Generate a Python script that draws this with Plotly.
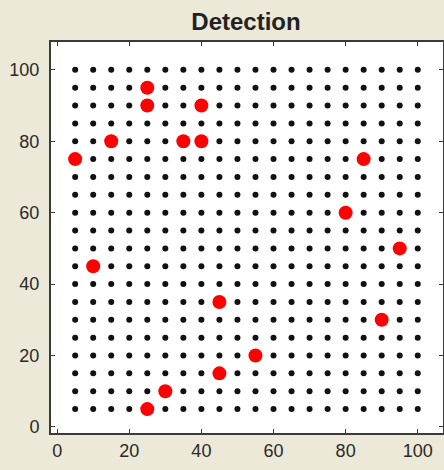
import numpy as np
import plotly.graph_objects as go

# Grid of sensor positions
grid_x_values = [5, 10, 15, 20, 25, 30, 35, 40, 45, 50, 55, 60, 65, 70, 75, 80, 85, 90, 95, 100]
grid_y_values = [5, 10, 15, 20, 25, 30, 35, 40, 45, 50, 55, 60, 65, 70, 75, 80, 85, 90, 95, 100]

# Detected targets
det_x = [5, 15, 25, 25, 35, 40, 40, 85, 80, 95, 10, 45, 90, 55, 45, 30, 25]
det_y = [75, 80, 95, 90, 80, 90, 80, 75, 60, 50, 45, 35, 30, 20, 15, 10, 5]

tick_vals = [0, 20, 40, 60, 80, 100]
tick_text = ["0", "20", "40", "60", "80", "100"]

gx, gy = np.meshgrid(grid_x_values, grid_y_values)

fig = go.Figure()
fig.add_trace(go.Scatter(
    x=gx.ravel(), y=gy.ravel(), mode="markers",
    marker=dict(color="#111111", size=6, line=dict(width=0)),
    hoverinfo="skip", showlegend=False))
fig.add_trace(go.Scatter(
    x=det_x, y=det_y, mode="markers",
    marker=dict(color="#ff0000", size=14, line=dict(width=0)),
    showlegend=False))

axis_common = dict(
    showgrid=False, zeroline=False, automargin=False,
    showline=True, linecolor="#3a3a3a", linewidth=2, mirror="ticks",
    ticks="inside", ticklen=4, tickwidth=1, tickcolor="#3a3a3a",
    tickvals=tick_vals, ticktext=tick_text,
    tickfont=dict(family="Liberation Sans, Arial, sans-serif", size=18, color="#2a2a2a"),
)

fig.update_layout(
    width=444, height=470,
    margin=dict(l=51, r=1, t=42, b=37, autoexpand=False),
    paper_bgcolor="#ECE9D8", plot_bgcolor="#ffffff",
    title=dict(text="<b>Detection</b>", x=246 / 444, xanchor="center", xref="container",
               y=1 - 22 / 470, yanchor="middle", yref="container",
               font=dict(family="Liberation Sans, Arial, sans-serif", size=24, color="#222222")),
    xaxis=dict(range=[-1.7, 107], **axis_common),
    yaxis=dict(range=[-1.7, 107.8], ticklabelstandoff=6, **axis_common),
)

fig.write_html("out.html",
               config={"displayModeBar": False},
               post_script="document.body.style.margin='0';document.body.style.background='#ECE9D8';")
